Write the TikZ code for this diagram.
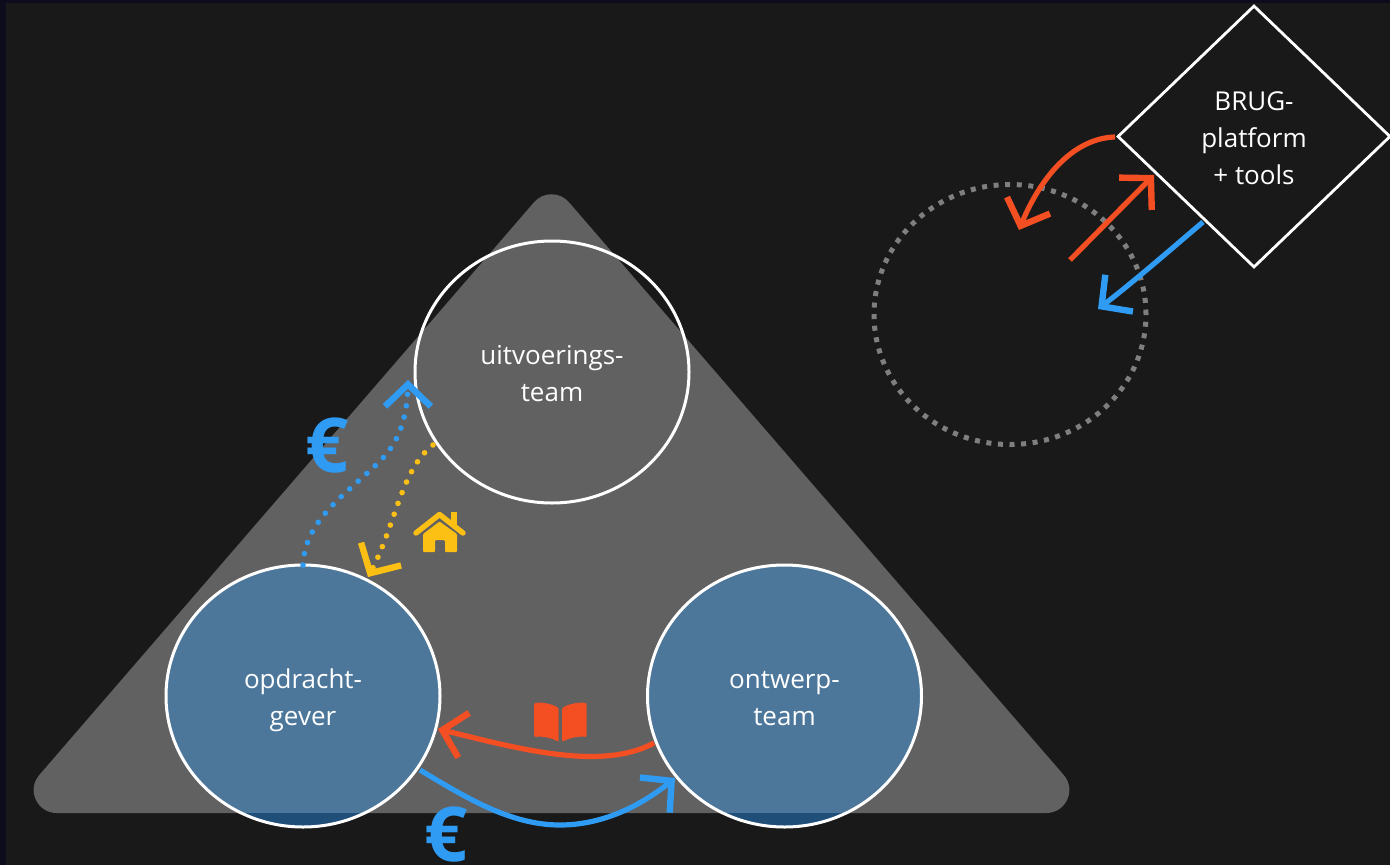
\documentclass[tikz,border=0pt]{standalone}
\usepackage{fontspec}
\setmainfont{Open Sans}
\usetikzlibrary{shapes.geometric,arrows.meta,bending}
\definecolor{bgc}{HTML}{191919}
\definecolor{edgec}{HTML}{0C0C1C}
\definecolor{tric}{HTML}{616161}
\definecolor{bluefill}{HTML}{4C779B}
\definecolor{bluedark}{HTML}{1F4E79}
\definecolor{linkblue}{HTML}{2F9BF3}
\definecolor{linkred}{HTML}{F44E23}
\definecolor{linkyel}{HTML}{FCC015}
\definecolor{dotgray}{HTML}{7F7F7F}
\newcommand{\topstrut}{\rule{0pt}{28pt}}
\newcommand{\botstrut}{\rule[-6.5pt]{0pt}{6.5pt}}
\tikzset{
  x=1pt,y=-1pt,
  party/.style={ellipse,draw=white,line width=3pt,minimum width=274pt,minimum height=262pt,inner sep=0pt,outer sep=0pt,text=white,align=center,font=\fontsize{26}{37.5}\selectfont},
  paid/.style={party,fill=bluefill,path picture={\fill[bluedark] ([yshift=14pt]path picture bounding box.south west) rectangle (path picture bounding box.south east);}},
  barb/.style={-{Straight Barb[length=22pt,width=46pt,line width=6.4pt]}},
  link/.style={barb,line width=5.2pt},
  dots/.style={barb,line width=5.6pt,line cap=round,dash pattern=on 0pt off 11.5pt},
  euro/.style={text=linkblue,font=\fontsize{76}{76}\selectfont\bfseries,inner sep=0pt}
}
\begin{document}
\begin{tikzpicture}
\useasboundingbox (0,0) rectangle (1390,865);
\fill[bgc] (0,0) rectangle (1390,865);
\fill[edgec] (0,0) rectangle (6,865);
\fill[edgec] (0,0) rectangle (1390,3);
% triangle
\fill[tric] (56.7,813) .. controls (37,813) and (26.4,789.9) .. (39.3,775)
  -- (534.1,202.2) .. controls (543.2,191.6) and (559.8,191.6) .. (568.9,202.2)
  -- (1063.7,775) .. controls (1076.6,789.9) and (1066,813) .. (1046.3,813) -- cycle;
% parties
\node[party] (uit) at (552,372) {\topstrut uitvoerings-\\team\botstrut};
\node[paid] (opd) at (303,696) {\topstrut opdracht-\\gever\botstrut};
\node[paid] (ont) at (784.5,696) {\topstrut ontwerp-\\team\botstrut};
\node[ellipse,draw=dotgray,line width=5pt,dash pattern=on 5pt off 6.6pt,minimum width=272pt,minimum height=260pt,inner sep=0pt] (ring) at (1010,314.5) {};
\node[diamond,draw=white,line width=2.8pt,aspect=1.04,minimum width=273pt,minimum height=262pt,inner sep=0pt,text=white,align=center,font=\fontsize{26}{37}\selectfont] (brug) at (1254,136.5) {\topstrut BRUG-\\platform\\+ tools\botstrut};
% named ends
\coordinate (a0) at (377,464);
\coordinate (a1) at (408,380);
\coordinate (b0) at (433,445);
\coordinate (b1) at (368,577);
\coordinate (c0) at (654,743);
\coordinate (c1) at (438,729);
\coordinate (d0) at (420,770);
\coordinate (dm) at (560,825);
\coordinate (d1) at (675,778);
\coordinate (e0) at (1115,137);
\coordinate (e1) at (1019,230);
\coordinate (f0) at (1070,260);
\coordinate (f1) at (1154,175);
\coordinate (g0) at (1203,222);
\coordinate (g1) at (1098,309);
% connectors
\draw[dots,linkblue] (opd.north) .. controls (305,520) and (345,495) .. (a0) .. controls (395,447) and (408,425) .. (a1);
\draw[dots,linkyel] (b0) .. controls (400,470) and (395,530) .. (b1);
\draw[link,linkred] (c0) .. controls (600,772) and (516,748) .. (c1);
\draw[link,linkblue] (d0) .. controls (465,797) and (510,825) .. (dm) .. controls (595,825) and (635,812) .. (d1);
\draw[link,linkred] (e0) .. controls (1075,138) and (1040,175) .. (e1);
\draw[link,linkred] (f0) -- (f1);
\draw[link,linkblue] (g0) .. controls (1170,250) and (1130,285) .. (g1);
% icons
\node[euro] (eu1) at (327,446) {€};
\node[euro] (eu2) at (446,835) {€};
\fill[linkyel] (451,512) rectangle (457,526);
\draw[linkyel,line width=5.4pt,line cap=round,line join=round] (416,533) -- (439.5,514.5) -- (463,533);
\fill[linkyel,rounded corners=1pt] (439.5,521.5) -- (457,534) -- (457,552) -- (445,552) -- (445,540) -- (435,540) -- (435,552) -- (423,552) -- (423,534) -- cycle;
\fill[linkred,rounded corners=1.5pt] (534,703) .. controls (543,702) and (552,704) .. (558.7,708) -- (558.7,742) .. controls (552,738) and (543,736) .. (534,737) -- cycle;
\fill[linkred,rounded corners=1.5pt] (586.7,703) .. controls (578,702) and (569,704) .. (562,708) -- (562,742) .. controls (569,738) and (578,736) .. (586.7,737) -- cycle;
\end{tikzpicture}
\end{document}
